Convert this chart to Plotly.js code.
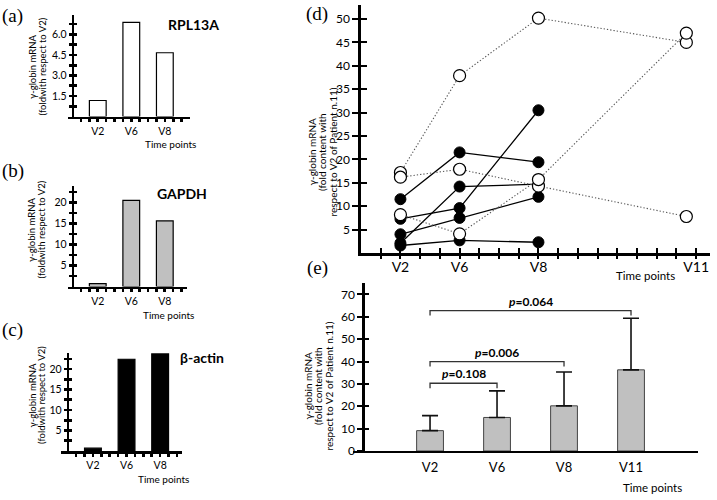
<!DOCTYPE html>
<html><head><meta charset="utf-8">
<script src="https://cdn.plot.ly/plotly-3.0.1.min.js"></script>
<style>html,body{margin:0;padding:0;background:#fff}#chart{width:717px;height:500px}</style>
</head><body><div id="chart"></div>
<script>
// ---- Panels (a)-(c): fold change with respect to V2 ----
const timeLabelsABC = ['V2', 'V6', 'V8'];
const rpl13aValues = [1.17, 6.88, 4.66];
const gapdhValues = [0.7, 20.5, 15.6];
const bactinValues = [0.7, 22.4, 23.7];

// ---- Panel (d): individual patients ----
const timeLabelsD = ['V2', 'V6', 'V8', 'V11'];
const filledSeries = [
  [11.5, 21.5, 19.4],
  [7.3, 9.6, 30.5],
  [4.0, 7.5, 12.0],
  [2.1, 14.2, 14.7],
  [1.6, 2.7, 2.3]
];
const openSeries = [
  [17.2, 37.9, 50.2, 45.0],
  [16.2, 17.9, 14.3, 7.8],
  [8.2, 4.1, 15.7, 47.0]
];

// ---- Panel (e): mean + SD ----
const timeLabelsE = ['V2', 'V6', 'V8', 'V11'];
const meanValues = [9.1, 15.0, 20.2, 36.3];
const sdValues = [6.7, 11.9, 15.1, 23.1];
const pTargets = ['V6', 'V8', 'V11'];
const pValues = ['0.108', '0.006', '0.064'];

// ---------------- layout helpers ----------------
const W = 717, H = 500;
const px = x => x / W;
const py = y => 1 - y / H;
const FONT = 'Lato, "Open Sans", Arial, sans-serif';
const SERIF = '"Liberation Serif", "DejaVu Serif", serif';

const posABC = i => 3 + 4 * i;
const posD = {V2: 2, V6: 5, V8: 9, V11: 16.5};
const posE = i => i + 1;

function catTicks(n, labelAt) {
  const vals = [], txt = [];
  for (let k = 1; k <= n; k++) { vals.push(k); txt.push(labelAt[k] || ''); }
  return {vals, txt};
}
function stepTicks(step, max, labelEvery, fmt) {
  const vals = [], txt = [];
  for (let k = 1; k * step <= max + 1e-9; k++) {
    vals.push(k * step);
    txt.push(k % labelEvery === 0 ? fmt(k * step) : '');
  }
  return {vals, txt};
}

const traces = [];
function barsABC(vals, color, xa, ya) {
  traces.push({
    type: 'bar', x: vals.map((_, i) => posABC(i)), y: vals, width: 2,
    marker: {color: color, line: {color: '#000', width: 1.2}},
    xaxis: xa, yaxis: ya, hoverinfo: 'skip', showlegend: false
  });
}
barsABC(rpl13aValues, '#ffffff', 'x', 'y');
barsABC(gapdhValues, '#c0c0c0', 'x2', 'y2');
barsABC(bactinValues, '#000000', 'x3', 'y3');

// panel (d)
filledSeries.forEach(s => traces.push({
  type: 'scatter', mode: 'lines+markers',
  x: s.map((_, i) => posD[timeLabelsD[i]]), y: s,
  line: {color: '#000', width: 1.3},
  marker: {size: 11, color: '#000', line: {color: '#000', width: 1}},
  xaxis: 'x4', yaxis: 'y4', showlegend: false, hoverinfo: 'skip'
}));
openSeries.forEach(s => traces.push({
  type: 'scatter', mode: 'lines+markers',
  x: s.map((_, i) => posD[timeLabelsD[i]]), y: s,
  line: {color: '#555', width: 1.1, dash: '1.3px,2px'},
  marker: {size: 12, color: '#fff', line: {color: '#000', width: 1.2}},
  xaxis: 'x4', yaxis: 'y4', showlegend: false, hoverinfo: 'skip'
}));

// panel (e)
traces.push({
  type: 'bar', x: meanValues.map((_, i) => posE(i)), y: meanValues, width: 0.4,
  marker: {color: '#c0c0c0', line: {color: '#444', width: 1}},
  error_y: {type: 'data', symmetric: false, array: sdValues,
            arrayminus: sdValues.map(() => 0), color: '#111', thickness: 1.6, width: 8},
  xaxis: 'x5', yaxis: 'y5', showlegend: false, hoverinfo: 'skip'
});

// dummy traces so overlay tick axes are drawn
[['x', 'y6'], ['x2', 'y7'], ['x3', 'y8'], ['x9', 'y4'], ['x4', 'y9'], ['x5', 'y10']].forEach(p =>
  traces.push({type: 'scatter', mode: 'markers', x: [null], y: [null], xaxis: p[0], yaxis: p[1],
               showlegend: false, hoverinfo: 'skip'}));

const base = {showgrid: false, zeroline: false, fixedrange: true, color: '#000',
              tickcolor: '#000'};

function xABC(domain, range, anchor) {
  const t = catTicks(13, {3: timeLabelsABC[0], 7: timeLabelsABC[1], 11: timeLabelsABC[2]});
  return Object.assign({}, base, {domain, range, anchor, showline: true, linewidth: 2.6,
    linecolor: '#000', tickmode: 'array', tickvals: t.vals, ticktext: t.txt,
    ticks: 'outside', ticklen: 3, tickwidth: 2.6, tickfont: {family: FONT, size: 10.5, color: '#000'}});
}
function yABC(domain, range, pos, t) {
  return Object.assign({}, base, {domain, range, anchor: 'free', position: pos, showline: true,
    linewidth: 2.6, linecolor: '#000', tickmode: 'array', tickvals: t.vals, ticktext: t.txt,
    ticks: 'outside', ticklen: 3, tickwidth: 2.6, tickfont: {family: FONT, size: 10.5, color: '#000'}});
}
function overlayY(over, range, pos, vals, len, width) {
  return Object.assign({}, base, {overlaying: over, range, anchor: 'free',
    position: pos, showline: false, tickmode: 'array', tickvals: vals,
    ticks: 'inside', ticklen: len, tickwidth: width, showticklabels: false});
}

const tA = stepTicks(0.75, 7.4, 2, v => v.toFixed(1));
const tB = stepTicks(2.5, 23.9, 2, v => String(v));
const tC = stepTicks(2.5, 24.0, 2, v => String(v));
const tDy = stepTicks(5, 50, 1, v => String(v));
const tDx = catTicks(17, {[posD.V2]: 'V2', [posD.V6]: 'V6', [posD.V8]: 'V8', 17: 'V11'});
const tEy = {vals: [0, 10, 20, 30, 40, 50, 60, 70], txt: ['0', '10', '20', '30', '40', '50', '60', '70']};

const rA = [0, 7.42], rB = [0, 23.9], rC = [0, 24.0], rD = [0, 53], rE = [0, 75];

const layout = {
  width: W, height: H, margin: {l: 0, r: 0, t: 0, b: 0},
  paper_bgcolor: '#fff', plot_bgcolor: 'rgba(0,0,0,0)', showlegend: false,
  font: {family: FONT, color: '#000'},
  bargap: 0,
  xaxis: xABC([px(68), px(190)], [-0.55, 14], 'y'),
  yaxis: yABC([py(116.5), py(15)], rA, px(72.7), tA),
  xaxis2: xABC([px(68), px(187)], [-0.55, 13.65], 'y2'),
  yaxis2: yABC([py(286.5), py(186)], rB, px(72.7), tB),
  xaxis3: xABC([px(61), px(182)], [-0.8, 13.6], 'y3'),
  yaxis3: yABC([py(451), py(352.7)], rC, px(67.7), tC),
  yaxis6: overlayY('y', rA, px(72.7), tA.vals, 3, 2.6),
  yaxis7: overlayY('y2', rB, px(72.7), tB.vals, 3, 2.6),
  yaxis8: overlayY('y3', rC, px(67.7), tC.vals, 3, 2.6),

  xaxis4: Object.assign({}, base, {domain: [px(361), px(710)], range: [0, 17.7], anchor: 'y4',
    showline: true, linewidth: 2.6, linecolor: '#000', tickmode: 'array', tickvals: tDx.vals,
    ticktext: tDx.txt, ticks: 'inside', ticklen: 5, tickwidth: 2,
    tickfont: {family: FONT, size: 14, color: '#000'}}),
  yaxis4: Object.assign({}, base, {domain: [py(253), py(5)], range: rD, anchor: 'x4',
    showline: true, linewidth: 2.6, linecolor: '#000', tickmode: 'array', tickvals: tDy.vals,
    ticktext: tDy.txt, ticks: 'outside', ticklen: 6, tickwidth: 2,
    tickfont: {family: FONT, size: 12, color: '#000'}}),
  xaxis9: Object.assign({}, base, {overlaying: 'x4', range: [0, 17.7], anchor: 'y4', showline: false,
    tickmode: 'array', tickvals: tDx.vals, ticks: 'outside', ticklen: 5, tickwidth: 2, showticklabels: false}),
  yaxis9: Object.assign({}, base, {overlaying: 'y4', range: rD, anchor: 'x4', showline: false,
    tickmode: 'array', tickvals: tDy.vals, ticks: 'inside', ticklen: 6, tickwidth: 2, showticklabels: false}),

  xaxis5: Object.assign({}, base, {domain: [px(353), px(698)], range: [-0.15, 5.0], anchor: 'y5',
    showline: true, linewidth: 2.4, linecolor: '#000', tickmode: 'array',
    tickvals: timeLabelsE.map((_, i) => posE(i)), ticktext: timeLabelsE,
    ticks: 'outside', ticklen: 3, tickcolor: 'rgba(0,0,0,0)',
    tickfont: {family: FONT, size: 13, color: '#000'}}),
  yaxis5: Object.assign({}, base, {domain: [py(451), py(283.3)], range: rE, anchor: 'free',
    position: px(363.3), showline: true, linewidth: 2.4, linecolor: '#000', tickmode: 'array',
    tickvals: tEy.vals, ticktext: tEy.txt, ticks: 'outside', ticklen: 5, tickwidth: 2,
    tickfont: {family: FONT, size: 12, color: '#000'}}),
  yaxis10: overlayY('y5', rE, px(363.3), tEy.vals, 5, 2),
  shapes: [],
  annotations: []
};

const ann = layout.annotations;
function paperText(text, x, y, size, opts) {
  ann.push(Object.assign({xref: 'paper', yref: 'paper', x: px(x), y: py(y), text,
    showarrow: false, xanchor: 'center', yanchor: 'middle',
    font: {family: FONT, size, color: '#000'}}, opts || {}));
}
// rotated multi-line axis titles, one annotation per line for tight line spacing
function yTitle(lines, xFirst, spacing, yc, size) {
  lines.forEach((l, i) => paperText(l, xFirst + i * spacing, yc, size, {textangle: -90}));
}
// panel letters
[['(a)', 13, 15.5], ['(b)', 12.5, 171], ['(c)', 12.5, 330], ['(d)', 317, 14], ['(e)', 317, 268]]
  .forEach(l => paperText(l[0], l[1], l[2], 19, {font: {family: SERIF, size: 19, color: '#000'}}));
// gene titles
paperText('<b>RPL13A</b>', 193, 24, 14);
paperText('<b>GAPDH</b>', 182, 193, 14);
paperText('<b>β-actin</b>', 202, 357, 14);
// y-axis titles
const yTitleABC = ['γ-globin mRNA', '(foldwith respect to V2)'];
yTitle(yTitleABC, 32, 9.5, 67, 9.5);
yTitle(yTitleABC, 32, 9.5, 230, 9.5);
yTitle(yTitleABC, 31.5, 9.5, 395, 9.5);
const yTitleDE = ['γ-globin mRNA', '(fold content with', 'respect to V2 of Patient n.11)'];
yTitle(yTitleDE, 311.5, 10.5, 152, 10);
yTitle(yTitleDE, 307.5, 10.5, 386, 10);
// "Time points"
paperText('Time points', 170, 144, 10);
paperText('Time points', 168, 315, 10);
paperText('Time points', 163, 479, 10);
paperText('Time points', 645, 275, 11.5);
paperText('Time points', 652, 487, 11.5);

// p-value brackets on panel (e)
const bracketLevels = [30.3, 40.0, 62.8];
const drop = 2.2;
pTargets.forEach((t, k) => {
  const x0 = posE(0), x1 = posE(timeLabelsE.indexOf(t)), lv = bracketLevels[k];
  layout.shapes.push({type: 'path', xref: 'x5', yref: 'y5',
    path: `M ${x0} ${lv - drop} L ${x0} ${lv} L ${x1} ${lv} L ${x1} ${lv - drop}`,
    line: {color: '#333', width: 1.3}});
  ann.push({xref: 'x5', yref: 'y5', x: (x0 + x1) / 2, y: lv, yanchor: 'bottom', xanchor: 'center',
    showarrow: false, text: `<b><i>p</i>=${pValues[k]}</b>`,
    font: {family: FONT, size: 12, color: '#000'}});
});

Plotly.newPlot('chart', traces, layout, {staticPlot: true, displayModeBar: false});
</script></body></html>
